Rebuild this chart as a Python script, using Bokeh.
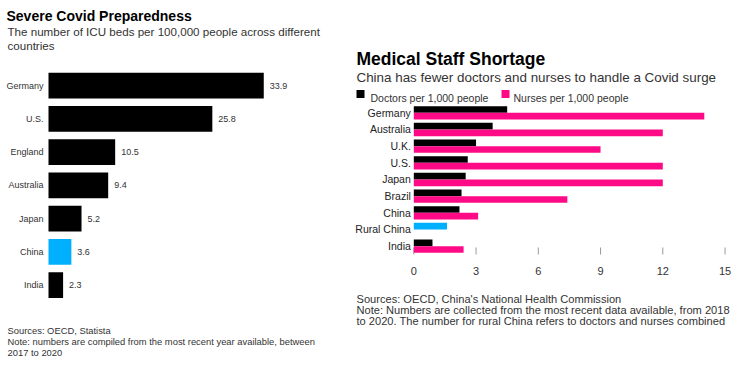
from bokeh.plotting import figure
from bokeh.models import ColumnDataSource, Range1d
from bokeh.core.properties import value
from bokeh.layouts import row
from bokeh.embed import file_html
from bokeh.resources import INLINE

FONT = "Liberation Sans"
nan = float("nan")

# ---- Left chart data ----
icu_countries = ["Germany", "U.S.", "England", "Australia", "Japan", "China", "India"]
icu_beds = [33.9, 25.8, 10.5, 9.4, 5.2, 3.6, 2.3]
icu_highlight = "China"

# ---- Right chart data ----
staff_countries = ["Germany", "Australia", "U.K.", "U.S.", "Japan", "Brazil", "China",
                   "Rural China", "India"]
doctors = [4.5, 3.8, 3.0, 2.6, 2.5, 2.3, 2.2, nan, 0.9]
nurses = [14.0, 12.0, 9.0, 12.0, 12.0, 7.4, 3.1, nan, 2.4]
rural_category = "Rural China"
rural_combined = 1.6
staff_ticks = [0, 3, 6, 9, 12, 15]

BLACK = "#000000"
BLUE = "#00B0FF"
PINK = "#FF0A86"
DARK = "#333333"


def base_fig(w, h, xr, yr):
    p = figure(width=w, height=h, output_backend="svg", toolbar_location=None,
               x_range=xr, y_range=yr, x_axis_location=None, y_axis_location=None,
               min_border=0, min_border_left=0, min_border_right=0,
               min_border_top=0, min_border_bottom=0)
    p.outline_line_color = None
    p.grid.visible = False
    # pixel-space ranges for the surrounding texts (y measured from the top)
    p.extra_x_ranges = {"px": Range1d(0, w)}
    p.extra_y_ranges = {"px": Range1d(h, 0)}
    return p


def txt(p, x, y, s, size, bold=False, color=DARK, align="left"):
    p.text(x=[x], y=[y], text=[s], x_range_name="px", y_range_name="px",
           text_font=value(FONT), text_font_size=size,
           text_font_style="bold" if bold else "normal",
           text_color=color, text_align=align, text_baseline="alphabetic")


# ================= LEFT =================
LW, LH = 350, 366
L_ZERO, L_SCALE = 48.0, 6.35          # px of the zero line, px per bed
L_C0, L_PITCH = 85.1, 33.25            # px of first row centre, row pitch
l_n = len(icu_countries)
lxr = Range1d(-L_ZERO / L_SCALE, (LW - L_ZERO) / L_SCALE)
lyr = Range1d((LH - L_C0) / L_PITCH, -L_C0 / L_PITCH)
lp = base_fig(LW, LH, lxr, lyr)

lsrc = ColumnDataSource(dict(
    cat=icu_countries, pos=list(range(l_n)), val=icu_beds,
    label=[f"{v:.1f}" for v in icu_beds],
    zero=[0] * l_n,
    color=[BLUE if c == icu_highlight else BLACK for c in icu_countries]))
lp.hbar(y="pos", right="val", left=0, height=0.78, fill_color="color",
        line_color=None, source=lsrc)
lp.text(x="val", y="pos", text="label", x_offset=6, text_baseline="middle",
        text_font_size="9px", text_color=DARK, text_font=value(FONT), source=lsrc)
lp.text(x="zero", y="pos", text="cat", x_offset=-5, text_align="right",
        text_baseline="middle", text_font_size="9px", text_color=DARK,
        text_font=value(FONT), source=lsrc)

txt(lp, 6, 15, "Severe Covid Preparedness", "14px", True, "#000000")
txt(lp, 7, 30.5, "The number of ICU beds per 100,000 people across different", "11.6px")
txt(lp, 7, 44.5, "countries", "11.6px")
txt(lp, 7, 330, "Sources: OECD, Statista", "9.4px")
txt(lp, 7, 341, "Note: numbers are compiled from the most recent year available, between", "9.4px")
txt(lp, 7, 351.7, "2017 to 2020", "9.4px")

# ================= RIGHT =================
RW, RH = 400, 366
R_ZERO, R_SCALE = 63.3, 20.75
R_C0, R_PITCH = 112.3, 16.67           # px of the first row centre, row pitch
r_n = len(staff_countries)
rxr = Range1d(-R_ZERO / R_SCALE, (RW - R_ZERO) / R_SCALE)
ryr = Range1d((RH - R_C0) / R_PITCH, -R_C0 / R_PITCH)
rp = base_fig(RW, RH, rxr, ryr)

pos = list(range(r_n))
rsrc = ColumnDataSource(dict(
    cat=staff_countries, zero=[0] * r_n,
    doc_pos=[i - 0.2 for i in pos], nur_pos=[i + 0.2 for i in pos],
    mid=pos, doctors=doctors, nurses=nurses))
rp.hbar(y="doc_pos", right="doctors", left=0, height=0.4,
        fill_color=BLACK, line_color=None, source=rsrc)
rp.hbar(y="nur_pos", right="nurses", left=0, height=0.4,
        fill_color=PINK, line_color=None, source=rsrc)
ri = staff_countries.index(rural_category)
rp.hbar(y=[ri - 0.2], right=[rural_combined], left=0, height=0.4,
        fill_color=BLUE, line_color=None)
rp.text(x="zero", y="mid", text="cat", x_offset=-3, text_align="right",
        text_baseline="middle", text_font_size="10.5px", text_color="#222222",
        text_font=value(FONT), source=rsrc)

# x axis: ticks (pointing up from the axis line position) and labels
tsrc = ColumnDataSource(dict(t=staff_ticks, lab=[str(t) for t in staff_ticks],
                             y0=[247] * len(staff_ticks), y1=[254] * len(staff_ticks),
                             ly=[270] * len(staff_ticks)))
rp.segment(x0="t", x1="t", y0="y0", y1="y1", y_range_name="px",
           line_color="#999999", line_width=1, source=tsrc, level="underlay")
rp.text(x="t", y="ly", text="lab", y_range_name="px", text_align="center",
        text_baseline="alphabetic", text_font_size="11px", text_color=DARK,
        text_font=value(FONT), source=tsrc)

# legend
rp.scatter(x=[10], y=[93.6], marker="square", size=8, fill_color=BLACK, line_color=None,
           x_range_name="px", y_range_name="px")
rp.scatter(x=[155], y=[93.6], marker="square", size=8, fill_color=PINK, line_color=None,
           x_range_name="px", y_range_name="px")
txt(rp, 20, 97, "Doctors per 1,000 people", "10.5px")
txt(rp, 163, 97, "Nurses per 1,000 people", "10.5px")

txt(rp, 6, 58, "Medical Staff Shortage", "17.5px", True, "#000000")
txt(rp, 6, 77.3, "China has fewer doctors and nurses to handle a Covid surge", "13.4px")
txt(rp, 6, 298.3, "Sources: OECD, China's National Health Commission", "11.1px")
txt(rp, 6, 309.3, "Note: Numbers are collected from the most recent data available, from 2018", "11.1px")
txt(rp, 6, 320, "to 2020. The number for rural China refers to doctors and nurses combined", "11.1px")

layout = row(lp, rp)
open("out.html", "w").write(file_html(layout, INLINE))
